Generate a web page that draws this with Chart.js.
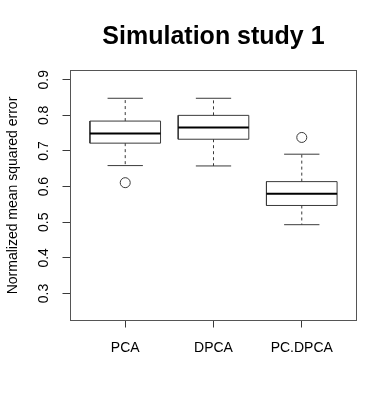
<!DOCTYPE html>
<html>
<head>
<meta charset="utf-8">
<script src="https://cdn.jsdelivr.net/npm/chart.js@4"></script>
<style>
  html, body { margin: 0; padding: 0; background: #ffffff; }
  canvas { display: block; }
</style>
</head>
<body>
<canvas id="c" width="392" height="410"></canvas>
<script>
// ---- data ----
const categories = ['PCA', 'DPCA', 'PC.DPCA'];
const lowerWhisker = [0.659, 0.658, 0.493];
const q1 = [0.722, 0.733, 0.547];
const median = [0.749, 0.766, 0.580];
const q3 = [0.784, 0.800, 0.614];
const upperWhisker = [0.848, 0.848, 0.691];
const outliers = [[0.611], [], [0.738]];
const yTicks = [0.3, 0.4, 0.5, 0.6, 0.7, 0.8, 0.9];
const titleText = 'Simulation study 1';
const yTitleText = 'Normalized mean squared error';

// ---- build datasets from the arrays ----
const BOX_HALF = 0.4, CAP_HALF = 0.2;
const boxPts = [], medPts = [], whiskPts = [], capPts = [], outPts = [];
categories.forEach((c, i) => {
  const x = i + 1;
  boxPts.push({x: x - BOX_HALF, y: q1[i]}, {x: x + BOX_HALF, y: q1[i]},
              {x: x + BOX_HALF, y: q3[i]}, {x: x - BOX_HALF, y: q3[i]},
              {x: x - BOX_HALF, y: q1[i]}, {x: x + 0.5, y: null});
  medPts.push({x: x - BOX_HALF, y: median[i]}, {x: x + BOX_HALF, y: median[i]}, {x: x + 0.5, y: null});
  whiskPts.push({x: x, y: q3[i]}, {x: x, y: upperWhisker[i]}, {x: x + 0.01, y: null},
                {x: x, y: q1[i]}, {x: x, y: lowerWhisker[i]}, {x: x + 0.02, y: null});
  capPts.push({x: x - CAP_HALF, y: upperWhisker[i]}, {x: x + CAP_HALF, y: upperWhisker[i]}, {x: x + 0.3, y: null},
              {x: x - CAP_HALF, y: lowerWhisker[i]}, {x: x + CAP_HALF, y: lowerWhisker[i]}, {x: x + 0.35, y: null});
  outliers[i].forEach(v => outPts.push({x: x, y: v}));
});

const LINE = '#3a3a3a';
const FONT = '"Liberation Sans", Arial, Helvetica, sans-serif';
const lineDs = (data, extra) => Object.assign({
  data, showLine: true, pointRadius: 0, pointHoverRadius: 0, borderColor: LINE,
  borderWidth: 1, fill: false, spanGaps: false, tension: 0, borderCapStyle: 'butt'
}, extra);

const framePlugin = {
  id: 'frame',
  beforeDatasetsDraw(chart) {
    const a = chart.chartArea, ctx = chart.ctx;
    ctx.save();
    ctx.strokeStyle = '#555';
    ctx.lineWidth = 1;
    ctx.strokeRect(a.left, a.top, a.right - a.left, a.bottom - a.top);
    ctx.restore();
  }
};
const yLabelPlugin = {
  id: 'yLabels',
  afterDraw(chart) {
    const s = chart.scales.y, ctx = chart.ctx;
    ctx.save();
    ctx.fillStyle = '#000';
    ctx.font = '14px ' + FONT;
    ctx.textAlign = 'center';
    ctx.textBaseline = 'middle';
    s.ticks.forEach(t => {
      const y = s.getPixelForValue(t.value);
      ctx.save();
      ctx.translate(44, y);
      ctx.rotate(-Math.PI / 2);
      ctx.fillText(t.value.toFixed(1), 0, 0);
      ctx.restore();
    });
    ctx.restore();
  }
};

new Chart(document.getElementById('c'), {
  type: 'scatter',
  data: {
    datasets: [
      lineDs(medPts, {borderColor: '#000', borderWidth: 2, order: 0}),
      lineDs(boxPts, {order: 1}),
      lineDs(whiskPts, {borderDash: [3, 3], order: 2}),
      lineDs(capPts, {order: 2}),
      {data: outPts, showLine: false, pointRadius: 5, pointHoverRadius: 5, pointStyle: 'circle',
       backgroundColor: 'rgba(0,0,0,0)', borderColor: LINE, borderWidth: 1, order: 0}
    ]
  },
  options: {
    responsive: false,
    animation: false,
    devicePixelRatio: 1,
    layout: {padding: {left: 0, right: 35.5, top: 0, bottom: 0}},
    plugins: {
      legend: {display: false},
      tooltip: {enabled: false},
      title: {
        display: true, text: titleText, fullSize: false, color: '#000',
        font: {family: FONT, size: 25, weight: 'bold'},
        padding: {top: 22, bottom: 18.5}
      }
    },
    scales: {
      x: {
        type: 'linear', min: 0.38, max: 3.62,
        afterBuildTicks: s => { s.ticks = categories.map((c, i) => ({value: i + 1})); },
        afterFit: s => { s.height = 89.5; },
        grid: {drawOnChartArea: false, drawTicks: true, tickLength: 7, color: LINE},
        border: {display: false},
        ticks: {
          color: '#000', font: {family: FONT, size: 14}, padding: 12,
          maxRotation: 0, autoSkip: false,
          callback: (v, i) => categories[i]
        }
      },
      y: {
        type: 'linear', min: 0.224, max: 0.926,
        afterBuildTicks: s => { s.ticks = yTicks.map(v => ({value: v})); },
        afterFit: s => { s.width = 70.5; },
        grid: {drawOnChartArea: false, drawTicks: true, tickLength: 8, color: LINE},
        border: {display: false},
        ticks: {display: false},
        title: {
          display: true, text: yTitleText, color: '#000',
          font: {family: FONT, size: 14}, padding: {top: 5, bottom: 0}
        }
      }
    }
  },
  plugins: [framePlugin, yLabelPlugin]
});
</script>
</body>
</html>
